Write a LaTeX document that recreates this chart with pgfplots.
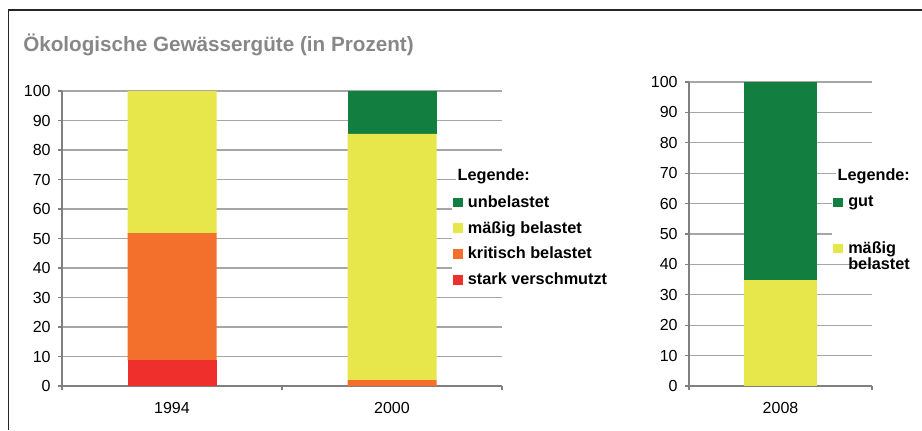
\documentclass[border=0pt]{standalone}
\usepackage{pgfplots}
\pgfplotsset{compat=1.18}
\usepackage{fontspec}
\setmainfont{Liberation Sans}
\definecolor{cRed}{RGB}{238,47,43}
\definecolor{cOrange}{RGB}{242,111,44}
\definecolor{cYellow}{RGB}{231,230,74}
\definecolor{cGreen}{RGB}{18,126,64}
\definecolor{cGrid}{RGB}{166,166,166}
\definecolor{cAxis}{RGB}{128,128,128}
\definecolor{cTitle}{RGB}{135,135,135}
\pgfplotsset{
  common/.style={
    scale only axis,
    ybar stacked,
    ymin=0, ymax=100,
    ytick={0,10,...,100},
    ymajorgrids,
    grid style={cGrid, line width=0.9pt},
    axis lines*=left,
    axis line style={cAxis, line width=0.9pt},
    tick style={cAxis, line width=0.9pt},
    tick align=outside,
    major tick length=3pt,
    minor tick length=3pt,
    major x tick style={draw=none},
    xtick pos=bottom, ytick pos=left,
    tick label style={font=\fontsize{12}{14}\selectfont, black},
    /pgf/number format/assume math mode=true,
    yticklabel style={xshift=-2pt},
    xticklabel style={yshift=-6pt},
    legend cell align=left,
    legend style={draw=none, fill=white, inner sep=1pt, font=\bfseries\fontsize{12.2}{14}\selectfont, anchor=north west},
    legend image code/.code={\fill[##1] (0pt,-3.6pt) rectangle (7.2pt,3.6pt); \path (0pt,0pt) (9.2pt,0pt);},
    reverse legend,
  }
}
\begin{document}
\begin{tikzpicture}
\path[use as bounding box] (0,0) rectangle (691.5pt,322.5pt);
\draw[line width=1.2pt, black!85] (6.375pt,0) -- (6.375pt,315pt) -- (691.5pt,315pt);
\node[anchor=base west, inner sep=0, text=cTitle, font=\bfseries\fontsize{15.5}{18}\selectfont] at (17.25pt,284.25pt) {Ökologische Gewässergüte (in Prozent)};
% Left chart
\begin{axis}[common,
  at={(46.5pt,33pt)}, anchor=south west,
  width=330pt, height=221.25pt,
  xmin=-0.5, xmax=1.5,
  xtick={0,1}, xticklabels={1994,2000},
  minor xtick={-0.5,0.5,1.5},
  bar width=66.75pt,
  legend style={at={(0.885,0.66)}, row sep=5pt},
]
\addplot[fill=cRed, draw=none] coordinates {(0,8.7) (1,0)};
\addplot[fill=cOrange, draw=none] coordinates {(0,43.1) (1,2.0)};
\addplot[fill=cYellow, draw=none] coordinates {(0,48.2) (1,83.5)};
\addplot[fill=cGreen, draw=none] coordinates {(0,0) (1,14.5)};
\legend{stark verschmutzt, kritisch belastet, mäßig belastet, unbelastet}
\end{axis}
% Right chart
\begin{axis}[common,
  at={(516.75pt,33pt)}, anchor=south west,
  width=137.25pt, height=228pt,
  xmin=-0.5, xmax=0.5,
  xtick={0}, xticklabels={2008},
  minor xtick={-0.5,0.5},
  bar width=54.75pt,
  legend style={at={(0.78,0.638)}, row sep=20pt},
]
\addplot[fill=cYellow, draw=none] coordinates {(0,35)};
\addplot[fill=cGreen, draw=none] coordinates {(0,65)};
\legend{{\begin{tabular}[t]{@{}l@{}}mäßig\\[-2pt]belastet\end{tabular}}, gut}
\end{axis}
\node[anchor=base west, inner sep=1.5pt, fill=white, font=\bfseries\fontsize{12.2}{14}\selectfont] at (341.5pt,187.5pt) {Legende:};
\node[anchor=base west, inner sep=1pt, fill=white, font=\bfseries\fontsize{12.2}{14}\selectfont] at (627pt,187.5pt) {Legende:};
\end{tikzpicture}
\end{document}
